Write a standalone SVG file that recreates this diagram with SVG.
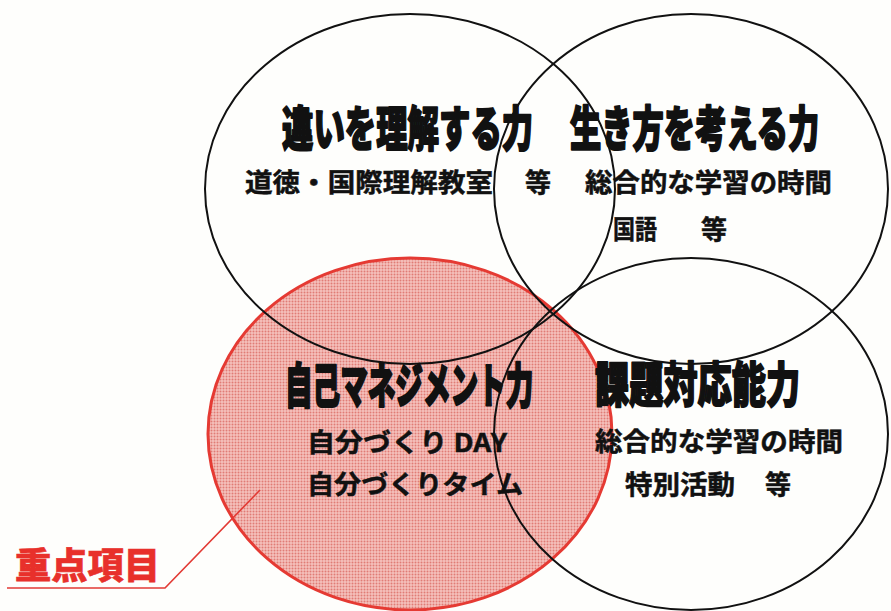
<svg xmlns="http://www.w3.org/2000/svg" width="891" height="611" viewBox="0 0 891 611">
<style>
.ring{fill:none;stroke:#111;stroke-width:2}
.head{font-family:"Noto Sans CJK JP","Noto Sans CJK SC",sans-serif;font-weight:900;fill:#111;stroke:#111;stroke-width:1.3;stroke-linejoin:round;dominant-baseline:central}
.sub{font-family:"Noto Sans CJK JP","Noto Sans CJK SC",sans-serif;font-weight:700;font-size:26px;fill:#111;stroke:#111;stroke-width:0.5;dominant-baseline:central}
.key{font-family:"Noto Sans CJK JP","Noto Sans CJK SC",sans-serif;font-weight:900;font-size:36px;fill:#e8302b;stroke:#e8302b;stroke-width:0.6;dominant-baseline:central}
.lead{fill:none;stroke:#e23a34;stroke-width:1.6}
</style>
<defs>
<pattern id="dots" width="3" height="3" patternUnits="userSpaceOnUse">
<rect width="3" height="3" fill="#f5c2bd"/>
<circle cx="1.5" cy="1.5" r="1" fill="#e07c75"/>
</pattern>
</defs>
<rect width="891" height="611" fill="#fefefc"/>
<g id="node-self-management">
<ellipse cx="410" cy="434" rx="202" ry="176" fill="url(#dots)" stroke="#e53a33" stroke-width="3"/>
</g>
<g id="node-understanding">
<ellipse class="ring" cx="410" cy="189" rx="205" ry="175"/>
</g>
<g id="node-way-of-life">
<ellipse class="ring" cx="691" cy="189" rx="197" ry="175"/>
</g>
<g id="node-problem-solving">
<ellipse class="ring" cx="691" cy="434" rx="197" ry="176"/>
</g>
<g id="labels-understanding">
<text class="head" transform="translate(282,125) scale(1,1.53)" font-size="31.4">違いを理解する力</text>
<text class="sub" x="245" y="180" textLength="248" lengthAdjust="spacingAndGlyphs">道徳・国際理解教室</text>
<text class="sub" x="525" y="180">等</text>
</g>
<g id="labels-way-of-life">
<text class="head" transform="translate(570,125) scale(1,1.53)" font-size="31.3">生き方を考える力</text>
<text class="sub" x="585" y="180" textLength="247" lengthAdjust="spacingAndGlyphs">総合的な学習の時間</text>
<text class="sub" x="613" y="227" textLength="44" lengthAdjust="spacingAndGlyphs">国語</text>
<text class="sub" x="701" y="227">等</text>
</g>
<g id="labels-self-management">
<text class="head" transform="translate(285,382) scale(1,1.72)" font-size="27.6">自己マネジメント力</text>
<text class="sub" x="307" y="440" textLength="200" lengthAdjust="spacingAndGlyphs">自分づくり DAY</text>
<text class="sub" x="307" y="482" textLength="216" lengthAdjust="spacingAndGlyphs">自分づくりタイム</text>
</g>
<g id="labels-problem-solving">
<text class="head" transform="translate(595,381) scale(1,1.4)" font-size="34.2">課題対応能力</text>
<text class="sub" x="595" y="439" textLength="248" lengthAdjust="spacingAndGlyphs">総合的な学習の時間</text>
<text class="sub" x="625" y="482" textLength="110" lengthAdjust="spacingAndGlyphs">特別活動</text>
<text class="sub" x="765" y="482">等</text>
</g>
<g id="connectors">
<polyline class="lead" points="7,588 165,588 260,490"/>
</g>
<g id="node-key">
<text class="key" x="15" y="563" textLength="145" lengthAdjust="spacingAndGlyphs">重点項目</text>
</g>
</svg>
